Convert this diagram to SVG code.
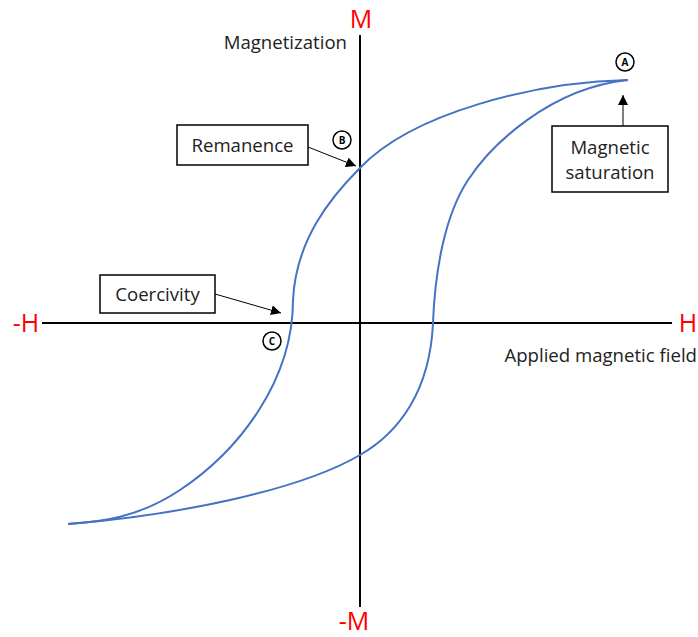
<svg xmlns="http://www.w3.org/2000/svg" width="698" height="637" viewBox="0 0 698 637">
<defs>
<style>
.ax{stroke:#000;stroke-width:2;fill:none}
.curve{stroke:#4472C4;stroke-width:2;fill:none}
.box{fill:#fff;stroke:#000;stroke-width:1.5}
.lbl{font-family:"Open Sans","Liberation Sans",sans-serif;font-size:18.6px;fill:#222}
.red{font-family:"Open Sans","Liberation Sans",sans-serif;font-size:25px;fill:#ff0000}
.ptc{fill:#fff;stroke:#000;stroke-width:1.5}
.ptt{font-family:"Open Sans","Liberation Sans",sans-serif;font-size:10px;font-weight:bold;fill:#000;text-anchor:middle}
.arr{stroke:#000;stroke-width:1;fill:none;marker-end:url(#ah)}
</style>
<marker id="ah" viewBox="0 0 10 10" refX="10" refY="5" markerWidth="10" markerHeight="10" markerUnits="userSpaceOnUse" orient="auto">
<path d="M0,0 L10,5 L0,10 z" fill="#000"/>
</marker>
</defs>
<g id="axes">
<line class="ax" x1="42" y1="323" x2="672" y2="323"/>
<line class="ax" x1="360" y1="35" x2="360" y2="607"/>
</g>
<g id="axis-labels">
<text class="red" x="361" y="28" text-anchor="middle">M</text>
<text class="red" x="354" y="630" text-anchor="middle">-M</text>
<text class="red" x="26" y="332" text-anchor="middle">-H</text>
<text class="red" x="688" y="332" text-anchor="middle">H</text>
<text class="lbl" x="347" y="49" text-anchor="end">Magnetization</text>
<text class="lbl" x="697" y="362" text-anchor="end">Applied magnetic field</text>
</g>
<g id="loop">
<path class="curve" d="M628,80 C535,82 412,113 360,168 C330,198 296,240 293,300 C293,380 240,450 180,490 C138,518 100,522 68,524"/>
<path class="curve" d="M68,524 C180,515 300,490 360,455 C400,432 430,390 433,323 C435,270 445,215 468,180 C491,145 550,88 628,80"/>
</g>
<g id="connectors">
<line class="arr" x1="308" y1="147" x2="356" y2="166"/>
<line class="arr" x1="215" y1="294" x2="281" y2="313"/>
<line class="arr" x1="623" y1="126" x2="623" y2="95"/>
</g>
<g id="remanence">
<rect class="box" x="177" y="125" width="131" height="40"/>
<text class="lbl" x="242.5" y="152" text-anchor="middle">Remanence</text>
</g>
<g id="coercivity">
<rect class="box" x="100" y="275" width="115" height="38"/>
<text class="lbl" x="157.5" y="301" text-anchor="middle">Coercivity</text>
</g>
<g id="saturation">
<rect class="box" x="552" y="126" width="116" height="66"/>
<text class="lbl" x="610" y="154" text-anchor="middle">Magnetic</text>
<text class="lbl" x="610" y="179" text-anchor="middle">saturation</text>
</g>
<g id="pointA">
<circle class="ptc" cx="625" cy="62" r="9"/>
<text class="ptt" x="625" y="66">A</text>
</g>
<g id="pointB">
<circle class="ptc" cx="342" cy="140" r="9"/>
<text class="ptt" x="342" y="144">B</text>
</g>
<g id="pointC">
<circle class="ptc" cx="272" cy="341" r="9"/>
<text class="ptt" x="272" y="345">C</text>
</g>
</svg>
